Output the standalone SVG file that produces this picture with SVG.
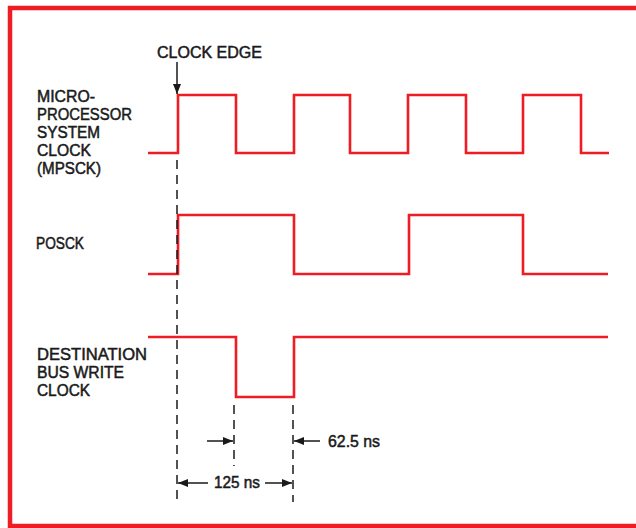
<svg xmlns="http://www.w3.org/2000/svg" width="636" height="528" viewBox="0 0 636 528">
<defs>
<style>
.frame{fill:none;stroke:#ee1c24;stroke-width:4.5}
.sig{fill:none;stroke:#ee1c24;stroke-width:2.6;stroke-linejoin:miter}
.dash{fill:none;stroke:#1a1a1a;stroke-width:1.5;stroke-dasharray:9 6}
.dim{fill:none;stroke:#1a1a1a;stroke-width:1.5}
.t{font-family:"Liberation Sans",Arial,sans-serif;font-size:16px;fill:#1a1a1a;stroke:#1a1a1a;stroke-width:0.5}
</style>
<marker id="ah" viewBox="0 0 10 8" refX="10" refY="4" markerWidth="10" markerHeight="8" markerUnits="userSpaceOnUse" orient="auto">
<path d="M0,0 L10,4 L0,8 Z" fill="#1a1a1a"/>
</marker>
</defs>
<rect width="636" height="528" fill="#ffffff"/>
<path class="frame" d="M636,8 H10 V526 H636"/>

<g id="clock-edge">
<text class="t" x="157" y="58" textLength="105" lengthAdjust="spacingAndGlyphs">CLOCK EDGE</text>
</g>

<g id="mpsck">
<text class="t" x="37" y="102" textLength="58" lengthAdjust="spacingAndGlyphs">MICRO-</text>
<text class="t" x="37" y="120" textLength="95" lengthAdjust="spacingAndGlyphs">PROCESSOR</text>
<text class="t" x="37" y="138" textLength="63" lengthAdjust="spacingAndGlyphs">SYSTEM</text>
<text class="t" x="37" y="156" textLength="54" lengthAdjust="spacingAndGlyphs">CLOCK</text>
<text class="t" x="37" y="174" textLength="64" lengthAdjust="spacingAndGlyphs">(MPSCK)</text>
<path class="sig" d="M148,153 H178 V95 H236 V153 H294 V95 H350 V153 H408 V95 H466 V153 H523 V95 H581 V153 H609"/>
</g>

<g id="posck">
<text class="t" x="36" y="249" textLength="48" lengthAdjust="spacingAndGlyphs">POSCK</text>
<path class="sig" d="M148,274 H178 V215 H294 V274 H409 V215 H523 V274 H608"/>
</g>

<g id="dbwc">
<text class="t" x="37" y="360" textLength="110" lengthAdjust="spacingAndGlyphs">DESTINATION</text>
<text class="t" x="37" y="378" textLength="87" lengthAdjust="spacingAndGlyphs">BUS WRITE</text>
<text class="t" x="37" y="396" textLength="53" lengthAdjust="spacingAndGlyphs">CLOCK</text>
<path class="sig" d="M148,337 H236 V397 H294 V337 H608"/>
</g>

<g id="labels">
<text class="t" x="328" y="447" textLength="52" lengthAdjust="spacingAndGlyphs">62.5 ns</text>
<text class="t" x="214" y="488" textLength="46" lengthAdjust="spacingAndGlyphs">125 ns</text>
</g>

<g id="connectors">
<line class="dim" x1="177" y1="62" x2="177" y2="94" marker-end="url(#ah)"/>
<line class="dash" x1="177" y1="160" x2="177" y2="502"/>
<line class="dash" x1="234" y1="405" x2="234" y2="466"/>
<line class="dash" x1="293" y1="405" x2="293" y2="502"/>
<line class="dim" x1="207" y1="441" x2="233" y2="441" marker-end="url(#ah)"/>
<line class="dim" x1="320" y1="441" x2="294" y2="441" marker-end="url(#ah)"/>
<line class="dim" x1="208" y1="483" x2="178" y2="483" marker-end="url(#ah)"/>
<line class="dim" x1="265" y1="483" x2="292" y2="483" marker-end="url(#ah)"/>
</g>
</svg>
